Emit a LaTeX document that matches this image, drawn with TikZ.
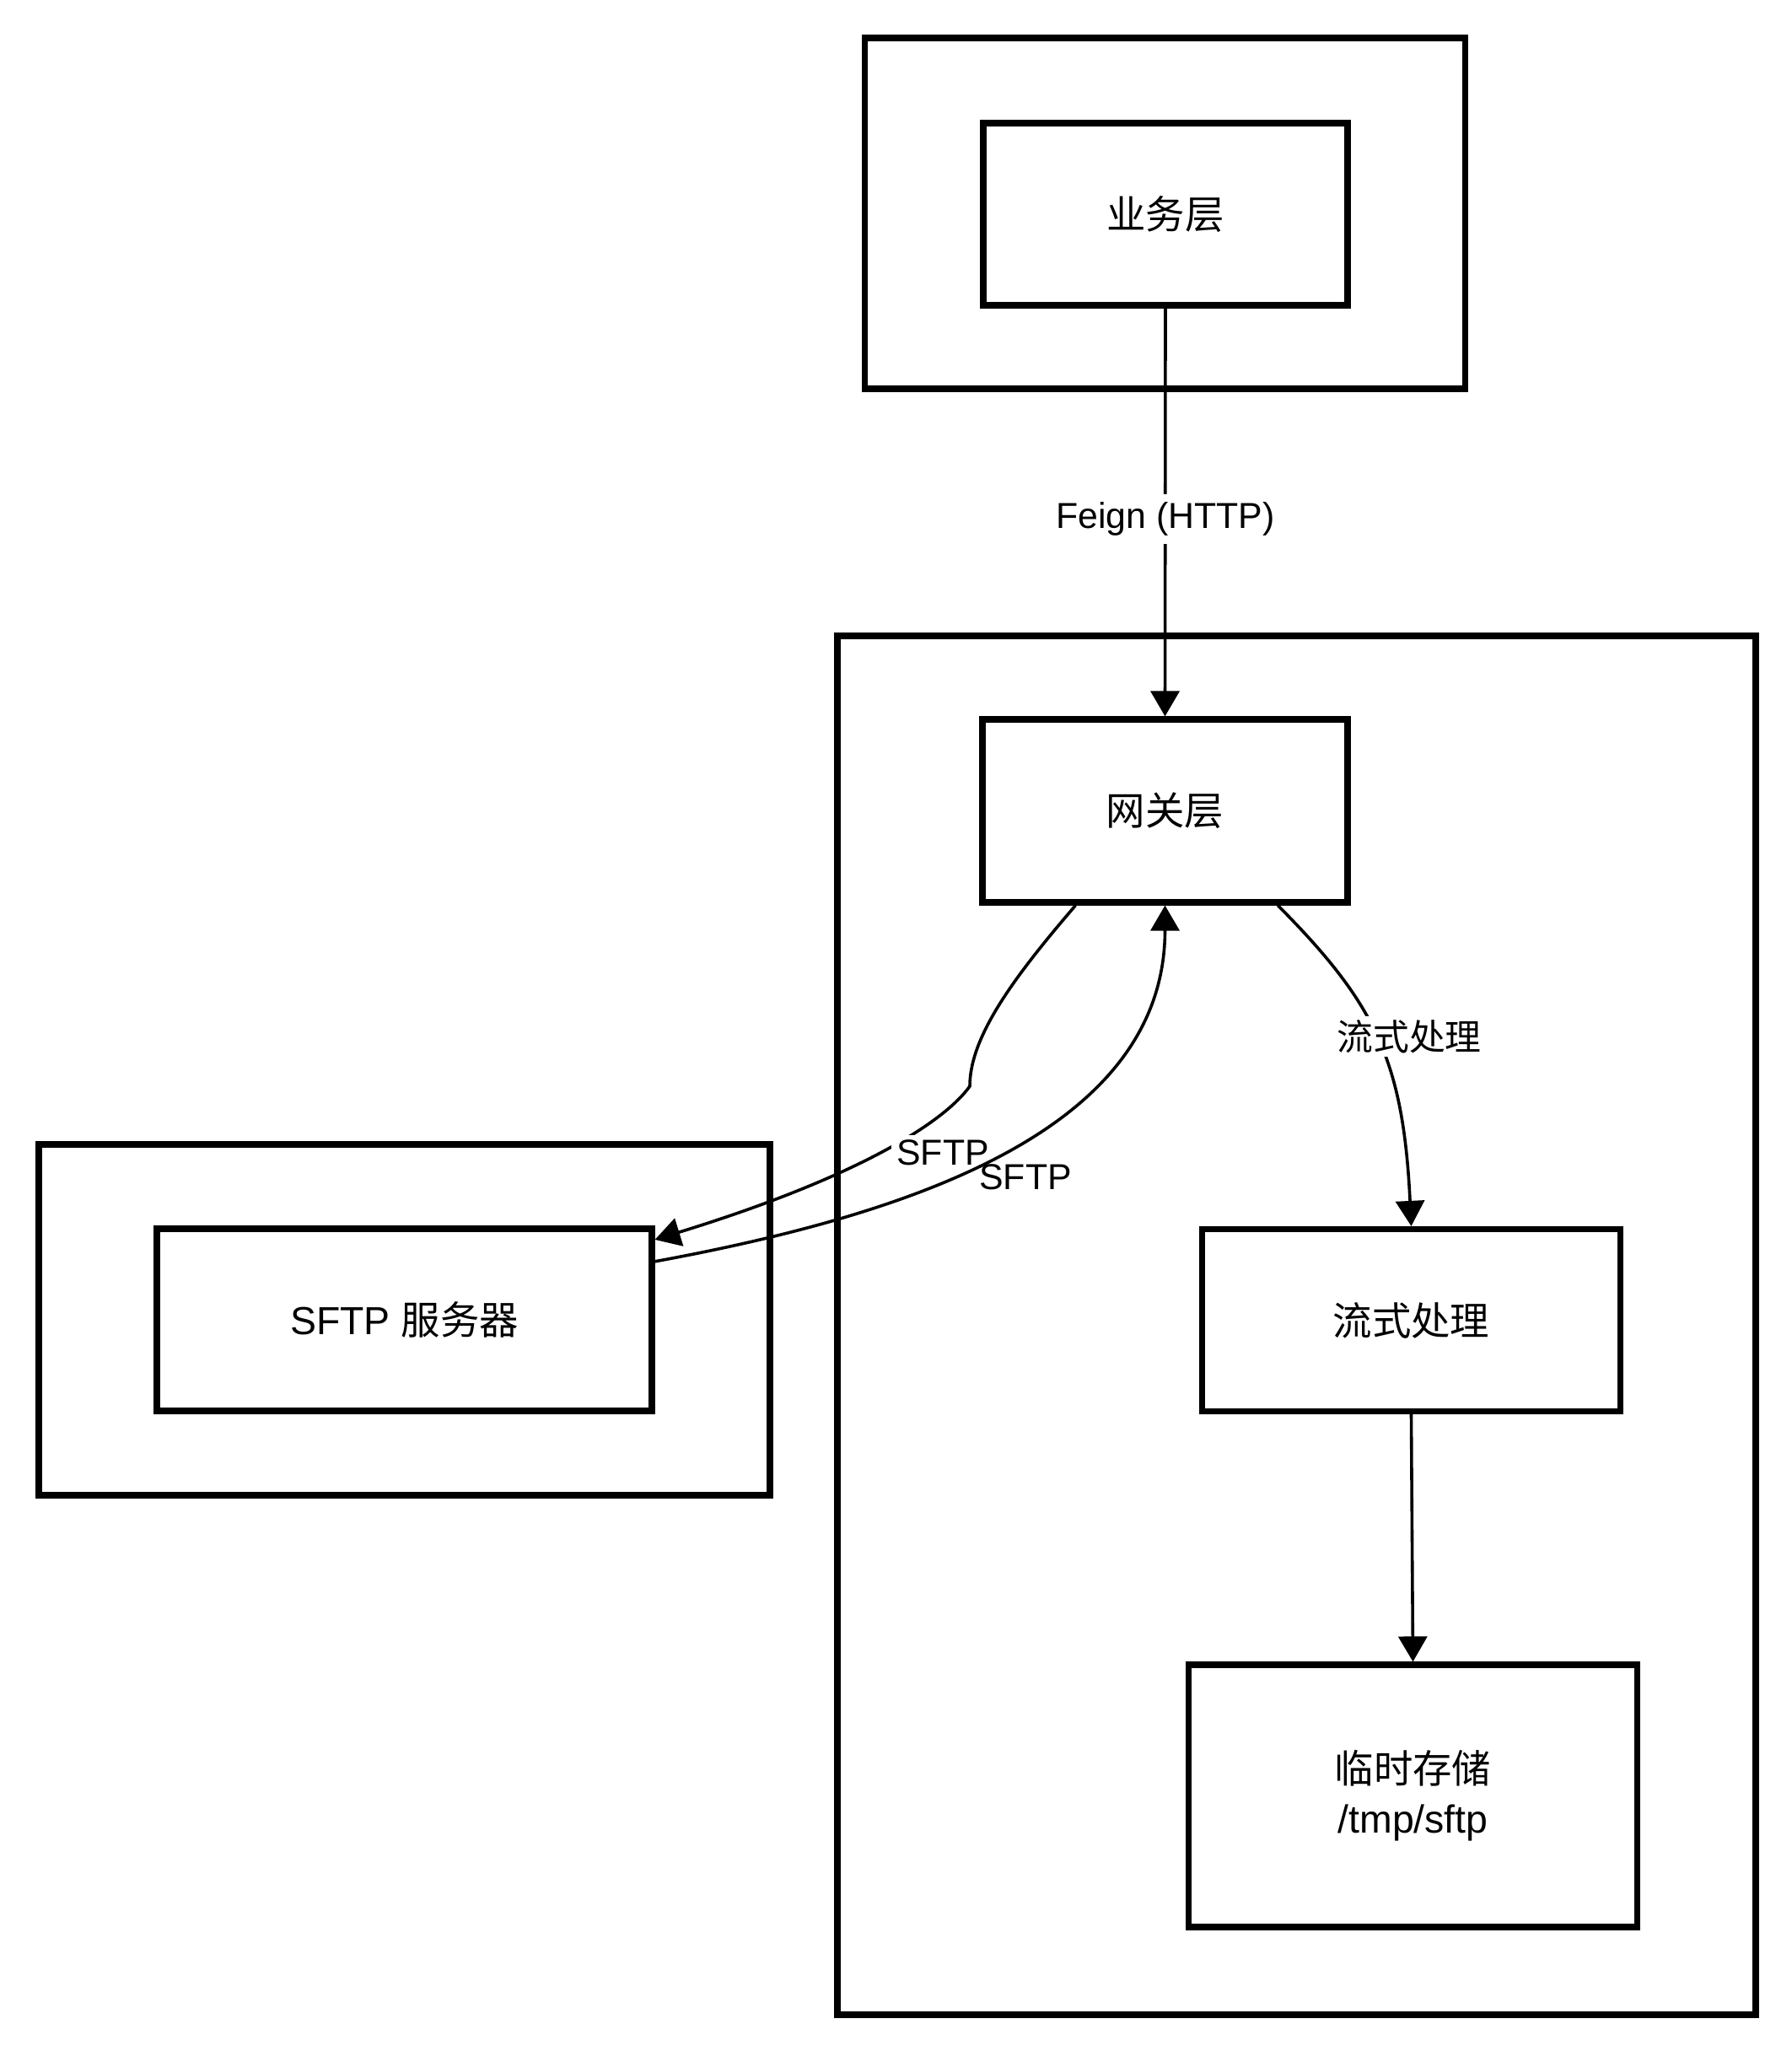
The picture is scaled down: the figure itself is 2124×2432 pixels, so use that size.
\documentclass[tikz,border=0pt]{standalone}
\usepackage{fontspec}
\setmainfont{Liberation Sans}
\newfontfamily\cjk{Noto Sans CJK SC}
\usetikzlibrary{arrows.meta,calc}
\newcommand\myNodeFont{\fontsize{11.6pt}{14.7pt}\selectfont}
\newcommand\myLblFont{\fontsize{10.7pt}{13pt}\selectfont}
\begin{document}
\begin{tikzpicture}[x=0.25pt,y=-0.25pt,
  frame/.style={draw,line width=1.8pt,inner sep=0pt},
  nodebox/.style={frame,font=\myNodeFont,align=center},
  conn/.style={line width=0.9pt,-{Triangle[length=7.5pt,width=8.5pt]}},
  lbl/.style={fill=white,font=\myLblFont,inner sep=1.5pt},
  lblfree/.style={font=\myLblFont,inner sep=1.5pt}]
\fill[white] (0,0) rectangle (2124,2432);
\useasboundingbox (0,0) rectangle (2124,2432);
% frames
\node[frame,minimum width=178pt,minimum height=104pt] (bizout) at (1381.6,253) {};
\node[frame,minimum width=272.25pt,minimum height=408.75pt] (gwout) at (1537.5,1571.5) {};
\node[frame,minimum width=216.75pt,minimum height=104pt] (sftpout) at (479.5,1565) {};
% nodes
\node[nodebox,minimum width=108pt,minimum height=54pt] (biz) at (1382,254) {\cjk 业务层};
\node[nodebox,minimum width=108.25pt,minimum height=54.25pt] (gw) at (1381.5,961.5) {\cjk 网关层};
\node[nodebox,minimum width=124pt,minimum height=54pt] (flow) at (1673.5,1565.5) {\cjk 流式处理};
\node[nodebox,minimum width=133pt,minimum height=77.75pt] (store) at (1675.5,2129.5) {{\cjk 临时存储}\\/tmp/sftp};
\node[nodebox,minimum width=146.75pt,minimum height=54pt] (srv) at (479.5,1565) {SFTP {\cjk 服务器}};
% connectors
\draw[conn] (biz.south) -- node[lbl,inner ysep=2.5pt,yshift=-2pt]{Feign (HTTP)} (gw.north);
\draw[conn] ($(gw.south west)!0.804!(gw.south east)$) .. controls (1631,1190) and (1664,1258) .. (flow.north)
  node[lbl,inner sep=1pt] at (1671,1229) {\cjk 流式处理};
\draw[conn] (flow.south) -- (store.north);
\coordinate (kA) at (1150,1288);
\draw[conn] ($(gw.south west)!0.259!(gw.south east)$) .. controls (1201,1160) and (1150,1230) .. (kA)
  .. controls (1120,1330) and (1020,1395) .. ($(srv.north east)!0.074!(srv.south east)$)
  node[lbl] at (1118,1367) {SFTP};
\draw[conn] ($(srv.north east)!0.19!(srv.south east)$) .. controls (1080,1440) and (1381.5,1340) .. (gw.south)
  node[lblfree] at (1216,1396) {SFTP};
\end{tikzpicture}
\end{document}
